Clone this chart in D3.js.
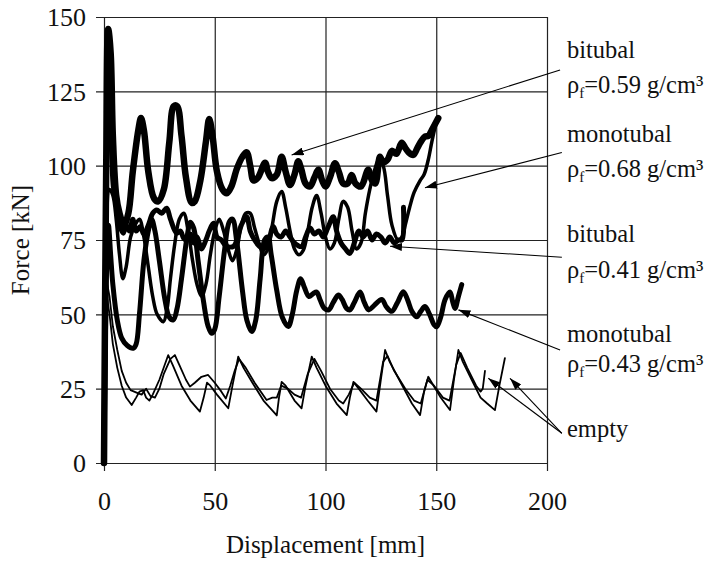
<!DOCTYPE html>
<html>
<head>
<meta charset="utf-8">
<script src="https://cdn.jsdelivr.net/npm/d3@7/dist/d3.min.js"></script>
<style>
  body { margin: 0; background: #fff; }
  svg { display: block; }
</style>
</head>
<body>
<svg id="chart" width="713" height="561"></svg>
<script>
// tick labels
const xTicks = [0, 50, 100, 150, 200];
const yTicks = [0, 25, 50, 75, 100, 125, 150];

// force [kN] vs displacement [mm]
const bitubal059 = [[0,0],[1,100],[1.9,146],[3,138],[4,110],[5.5,90],[7,84],[9,80],[11,84],[13,98],[15.5,112],[16.7,116],[18,112],[20,98],[22.6,89],[24.5,88],[27,92],[29.5,108],[31.5,120],[33,120],[35,110],[37,96],[39.6,87.5],[41,88],[43.5,95],[46,108],[47.5,115.7],[49,110],[51,98],[53.5,92],[55.4,90.7],[57.5,93],[60,99],[62.5,103],[64.4,104.5],[66,100],[67.5,95],[69.5,96],[72.7,101],[74,98],[75.7,95.8],[78,97],[80.2,103],[82,98],[84,93.5],[86,97],[87.7,101.5],[89,99],[91,94],[93,93],[95,96],[96.8,98.6],[98.5,95],[100,93],[102,96],[104.3,100.8],[106,98],[108,94],[110,94],[111.8,96.9],[113.5,94],[116,93],[119.3,98.6],[121,95],[122.5,94],[124.6,103],[126,101],[128,102],[130,105],[132,104],[134.4,107.7],[136,106],[137.5,104.5],[139.6,103.6],[141.5,106],[143,108],[144.9,109.8],[146.5,110],[148,112],[150.9,116]];

const monotubal068 = [[0,0],[1,50],[2.5,92],[4,90],[5.5,82],[7,70],[8.5,62],[10,66],[12,76],[14,80],[16,82],[18,76],[20,66],[22,56],[24,50],[26.8,47.5],[28.5,52],[30,62],[32,74],[34,82],[36,84],[38,78],[40,68],[42,60],[44,56],[46,60],[48,70],[50,78],[52,82],[54,78],[56,72],[58,68],[60,72],[62,80],[64,84],[66,84],[68,79],[70,74],[72,70],[74,72],[76,80],[78,88],[80.2,91.3],[82,86],[84,78],[86,72],[88,70],[90,71.6],[92,78],[94,86],[96,90],[98,84],[100,76],[102,72],[104,74],[106,82],[108,88],[110,86],[112,78],[114,72],[116,74],[118,84],[120,92],[122,98],[124,102],[126,100],[128,90],[130,80],[132.7,75],[134.5,76],[136,80],[138,86],[140,91],[142.7,95],[144.5,97],[146.4,102],[148,108],[150.2,115.4]];

const bitubal041 = [[0,0],[1,90],[2,140],[3,120],[4.2,93],[5.5,88],[7,80],[8.7,77.3],[10,80],[11.5,78],[13,82],[14.5,78],[16.3,79.5],[18,77],[20,80],[22,84],[23.8,85.1],[26,84],[28.3,85.7],[30,82],[32.8,77.3],[34.5,78],[36,75.5],[37.3,75],[39,77],[40.5,74],[42,76],[44,72],[46,75],[47.5,78],[49.4,80.6],[51,76],[53,75],[55,73],[58.4,72.8],[60,75],[62,80],[64.4,82.8],[66,78],[68,75],[70,73],[72,72],[74,74],[76.4,79.5],[78,77],[80,76],[82,78],[84,76],[86,74],[89.2,72.8],[91,76],[93,79],[95,77],[97,78],[99,76],[101,79],[103.5,82.8],[105,78],[107,74],[109,72],[111,70.5],[113,74],[115,78],[117,76],[119,78],[121,75],[123,77],[125,76],[127,74],[129,76],[131,74],[133,75],[134.5,75],[135.2,86]];

const monotubal043 = [[0,0],[1,60],[2,80],[3,70],[4,60],[6,48],[8,42],[10.5,39.5],[13.2,38.6],[14.5,40],[16,50],[18,68],[20,78],[21.5,82],[23,78],[25,68],[27.5,55],[29.5,49],[31.3,48.1],[33,52],[35,62],[37.5,76],[39,81],[40.5,79],[42.5,68],[45,54],[47,46],[48.6,43.6],[50,45],[52,56],[54.5,72],[56.5,81],[58,82],[60,74],[62.5,58],[64.5,48],[66.7,44.2],[68.5,48],[70.5,62],[72.5,75],[74,76],[75.5,70],[78,58],[80.5,49],[83.2,45.9],[85,50],[87,58],[88.8,62],[90.5,59],[92.5,56],[94.5,57],[96,57.5],[97.5,55],[99.5,52],[101.5,51.5],[103.5,54],[105.8,56.5],[107.5,55],[109.5,52],[111,51.5],[113,54],[115.6,57.5],[117.5,54],[119.5,51.5],[122,53],[125.4,55],[127.5,52.5],[129.9,51],[132.5,54],[135.1,57.6],[137,55],[139,51],[141.2,49.2],[143,51],[144.9,52.6],[147,50],[149,46.5],[150.2,45.8],[152,49],[154,55],[156.2,57.5],[157.5,54],[158.5,52],[160,56],[161.5,60]];

const emptyA = [[0,0],[0.8,30],[1.5,55],[2.5,50],[4,40],[6,32],[8,26],[10,22],[12.5,19.5],[14.5,22],[16,24],[17.7,24.5],[19,22],[20.5,21],[22,23],[25,28],[29,36.3],[31,33],[35,26],[39,21],[43.3,17.3],[45,22],[46.5,27],[48,26],[51,23],[56.1,18.4],[58,26],[60.6,35.8],[63,32],[67,27],[72,21],[78,16],[79,22],[80.2,27.3],[82,26],[86,21],[89.2,18.4],[91,26],[93.8,35.8],[96,32],[100,26],[105,20],[109.6,16.1],[111,22],[112.6,27.3],[115,25],[119,21],[123,17.3],[125,28],[126.9,38],[129,34],[134,27],[139,20],[142.7,16.1],[144.5,24],[146.4,29],[148,27],[152,22],[156.2,17.8],[158,28],[160,38],[162,34],[166,28],[170,22],[173,20],[176.5,17.8],[178.5,26],[181,35.3]];

const emptyB = [[0,0],[0.8,35],[1.5,60],[2.5,56],[4,46],[6,38],[8,31],[10,27],[12,24.5],[15.5,23.4],[17,23],[19,25],[21,22.5],[23,22],[25,25],[27,30],[30,35],[32,36.3],[34,33],[37,28],[38.8,25.7],[41,27],[44,29],[47,29.6],[50,27],[53,24],[55,21.7],[57,26],[59,31],[61,35],[64,32],[68,27],[73.4,21.2],[76,22],[78,22],[80,26],[83,25],[86,23],[89,22],[92,30],[95,35],[98,31],[102,25],[106,21],[108,20],[110.5,23],[113,27],[116,25],[120,22],[123,21],[126,34],[128,36],[131,31],[136,25],[140,21],[143,20],[146,28],[149,26],[153,22],[156,21],[159,33],[161,37],[164,32],[168,26],[170,24],[171,25],[172,31]];

const series = [
  { name: 'empty A', values: emptyA, width: 1.8, smooth: false },
  { name: 'empty B', values: emptyB, width: 1.8, smooth: false },
  { name: 'monotubal 0.43', values: monotubal043, width: 5, smooth: true },
  { name: 'monotubal 0.68', values: monotubal068, width: 3.5, smooth: true },
  { name: 'bitubal 0.41', values: bitubal041, width: 5, smooth: true },
  { name: 'bitubal 0.59', values: bitubal059, width: 6.5, smooth: true }
];

// callout labels: text lines, then arrow start and tip(s) in data units
const callouts = [
  { lines: ['bitubal', 'ρ|f|=0.59 g/cm³'], from: [205.9, 132.2], tips: [[84.7, 103.6]] },
  { lines: ['monotubal', 'ρ|f|=0.68 g/cm³'], from: [206.7, 104.4], tips: [[144.9, 92.6]] },
  { lines: ['bitubal', 'ρ|f|=0.41 g/cm³'], from: [206.7, 69.2], tips: [[129.1, 72.9]] },
  { lines: ['monotubal', 'ρ|f|=0.43 g/cm³'], from: [205.9, 38], tips: [[160, 51.5]] },
  { lines: ['empty'], from: [206.7, 10], tips: [[173.5, 28.5], [183.3, 28.5]] }
];
const calloutBaselines = [[58, 93], [142, 177], [242, 278], [342, 372], [437]];

const serif = 'Liberation Serif, DejaVu Serif, serif';
const svg = d3.select('#chart').attr('font-family', serif);
const mLeft = 104, mRight = 547, mTop = 17, mBottom = 463;

const x = d3.scaleLinear().domain([0, 200]).range([mLeft, mRight]);
const y = d3.scaleLinear().domain([0, 150]).range([mBottom, mTop]);

// grid + axes
const yAxis = svg.append('g')
  .attr('transform', `translate(${mLeft},0)`)
  .call(d3.axisLeft(y).tickValues(yTicks).tickSize(0).tickPadding(18));
yAxis.attr('font-family', serif).attr('font-size', 26);
yAxis.select('.domain').remove();
yAxis.selectAll('.tick line')
  .attr('x1', -8).attr('x2', mRight - mLeft)
  .attr('stroke', '#222').attr('stroke-width', 1.2);
yAxis.selectAll('.tick text')
  .attr('dy', '0.34em').attr('fill', '#111');

const xAxis = svg.append('g')
  .attr('transform', `translate(0,${mBottom})`)
  .call(d3.axisBottom(x).tickValues(xTicks).tickSize(0).tickPadding(29));
xAxis.attr('font-family', serif).attr('font-size', 26);
xAxis.select('.domain').remove();
xAxis.selectAll('.tick line')
  .attr('y1', 8).attr('y2', mTop - mBottom)
  .attr('stroke', '#222').attr('stroke-width', 1.2);
xAxis.selectAll('.tick text')
  .attr('dy', '0.71em').attr('fill', '#111');

svg.append('text')
  .attr('x', (mLeft + mRight) / 2).attr('y', 553)
  .attr('text-anchor', 'middle').attr('font-size', 25).attr('fill', '#111')
  .text('Displacement [mm]');

svg.append('text')
  .attr('transform', `translate(29,${(mTop + mBottom) / 2}) rotate(-90)`)
  .attr('text-anchor', 'middle').attr('font-size', 25).attr('fill', '#111')
  .text('Force [kN]');

// curves
const smoothLine = d3.line().x(d => x(d[0])).y(d => y(d[1])).curve(d3.curveCatmullRom.alpha(0.5));
const sharpLine = d3.line().x(d => x(d[0])).y(d => y(d[1]));

svg.append('g').selectAll('path')
  .data(series)
  .join('path')
  .attr('d', d => (d.smooth ? smoothLine : sharpLine)(d.values))
  .attr('fill', 'none')
  .attr('stroke', '#000')
  .attr('stroke-width', d => d.width)
  .attr('stroke-linejoin', 'round')
  .attr('stroke-linecap', 'round');

// callouts
svg.append('defs').append('marker')
  .attr('id', 'head')
  .attr('viewBox', '0 0 12 8')
  .attr('refX', 12).attr('refY', 4)
  .attr('markerWidth', 12).attr('markerHeight', 8)
  .attr('markerUnits', 'userSpaceOnUse')
  .attr('orient', 'auto')
  .append('path').attr('d', 'M0,0L12,4L0,8Z').attr('fill', '#000');

const notes = svg.append('g');
callouts.forEach((c, i) => {
  c.tips.forEach(t => {
    notes.append('line')
      .attr('x1', x(c.from[0])).attr('y1', y(c.from[1]))
      .attr('x2', x(t[0])).attr('y2', y(t[1]))
      .attr('stroke', '#000').attr('stroke-width', 1.1)
      .attr('marker-end', 'url(#head)');
  });
  c.lines.forEach((ln, j) => {
    const t = notes.append('text')
      .attr('x', 567).attr('y', calloutBaselines[i][j])
      .attr('font-size', 24.5).attr('fill', '#111');
    const parts = ln.split('|');
    t.append('tspan').text(parts[0]);
    if (parts.length > 1) {
      t.append('tspan').attr('font-size', 15).attr('dy', 5).text(parts[1]);
      t.append('tspan').attr('dy', -5).text(parts[2]);
    }
  });
});
</script>
</body>
</html>
